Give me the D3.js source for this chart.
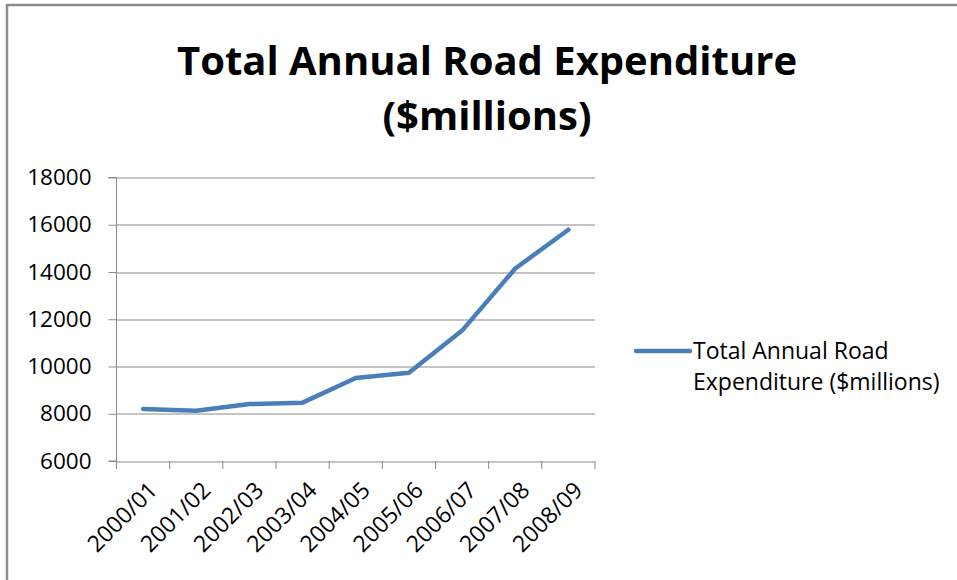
<!DOCTYPE html>
<html>
<head>
<meta charset="utf-8">
<script src="https://cdn.jsdelivr.net/npm/d3@7"></script>
<style>
  body { margin: 0; background: #fff; }
  text { font-family: "Open Sans", "Liberation Sans", sans-serif; fill: #000; }
</style>
</head>
<body>
<div id="chart"></div>
<script>
// chart data
var years = ["2000/01", "2001/02", "2002/03", "2003/04", "2004/05", "2005/06", "2006/07", "2007/08", "2008/09"];
var spending = [8200, 8130, 8410, 8470, 9510, 9740, 11520, 14150, 15790];
var yTicks = [6000, 8000, 10000, 12000, 14000, 16000, 18000];
var seriesName = ["Total Annual Road", "Expenditure ($millions)"];

var svgWidth = 957;
var svgHeight = 580;

var margin = { top: 177.5, left: 116.5, right: 362, bottom: 119 };
var width = svgWidth - margin.left - margin.right;
var height = svgHeight - margin.top - margin.bottom;

var svg = d3.select("#chart")
  .append("svg")
  .attr("width", svgWidth)
  .attr("height", svgHeight);

// outer chart border (only top and left show in the picture)
svg.append("path")
  .attr("d", "M7,580 V5 H957")
  .attr("fill", "none")
  .attr("stroke", "#8c8c8c")
  .attr("stroke-width", 2.5);

// title
var title = svg.append("text")
  .attr("text-anchor", "middle")
  .attr("font-weight", "bold")
  .attr("font-size", 40);
title.append("tspan").attr("x", 487).attr("y", 75).text("Total Annual Road Expenditure");
title.append("tspan").attr("x", 487).attr("y", 130).text("($millions)");

var chartGroup = svg.append("g")
  .attr("transform", `translate(${margin.left}, ${margin.top})`);

var xScale = d3.scaleBand()
  .domain(years)
  .range([0, width]);

var yScale = d3.scaleLinear()
  .domain([6000, 18000])
  .range([height, 0]);

// horizontal gridlines
chartGroup.append("g")
  .selectAll("line")
  .data(yTicks)
  .enter()
  .append("line")
  .attr("x1", 0)
  .attr("x2", width)
  .attr("y1", d => Math.round(yScale(d)) + 0.5)
  .attr("y2", d => Math.round(yScale(d)) + 0.5)
  .attr("stroke", "#8a8a8a")
  .attr("stroke-width", 1);

// y axis
var leftAxis = d3.axisLeft(yScale)
  .tickValues(yTicks)
  .tickSize(8)
  .tickPadding(17)
  .tickFormat(d3.format("d"));

var yAxis = chartGroup.append("g").call(leftAxis);
yAxis.select(".domain").attr("stroke", "#8a8a8a").attr("d", `M-8,${height}H0V0H-8`);
yAxis.selectAll(".tick line").attr("stroke", "#8a8a8a");
yAxis.selectAll("text")
  .attr("font-size", 22.5)
  .attr("font-family", "Open Sans")
  .attr("fill", "#000");

// x axis with ticks between categories
var bottomAxis = d3.axisBottom(xScale).tickSize(0).tickPadding(0);
var xAxis = chartGroup.append("g")
  .attr("transform", `translate(0, ${height})`)
  .call(bottomAxis);
xAxis.select(".domain").remove();
xAxis.selectAll(".tick line").remove();

chartGroup.append("g")
  .selectAll("line")
  .data(d3.range(years.length + 1))
  .enter()
  .append("line")
  .attr("x1", i => i * xScale.step())
  .attr("x2", i => i * xScale.step())
  .attr("y1", height)
  .attr("y2", height + 8)
  .attr("stroke", "#8a8a8a");

xAxis.selectAll("text")
  .attr("font-size", 23)
  .attr("font-family", "Open Sans")
  .attr("fill", "#000")
  .attr("text-anchor", "end")
  .attr("dy", "0.35em")
  .attr("transform", "translate(10, 25) rotate(-45)");

// the series line
var line = d3.line()
  .x((d, i) => xScale(years[i]) + xScale.bandwidth() / 2)
  .y(d => yScale(d));

chartGroup.append("path")
  .datum(spending)
  .attr("d", line)
  .attr("fill", "none")
  .attr("stroke", "#4a7ebb")
  .attr("stroke-width", 4.5)
  .attr("stroke-linejoin", "round")
  .attr("stroke-linecap", "round");

// legend
var legend = svg.append("g").attr("transform", "translate(636, 351)");
legend.append("line")
  .attr("x1", 0)
  .attr("x2", 54)
  .attr("stroke", "#4a7ebb")
  .attr("stroke-width", 4.5)
  .attr("stroke-linecap", "round");
legend.append("text")
  .attr("font-size", 23)
  .selectAll("tspan")
  .data(seriesName)
  .enter()
  .append("tspan")
  .attr("x", 57)
  .attr("y", (d, i) => 8 + i * 31)
  .text(d => d);
</script>
</body>
</html>
